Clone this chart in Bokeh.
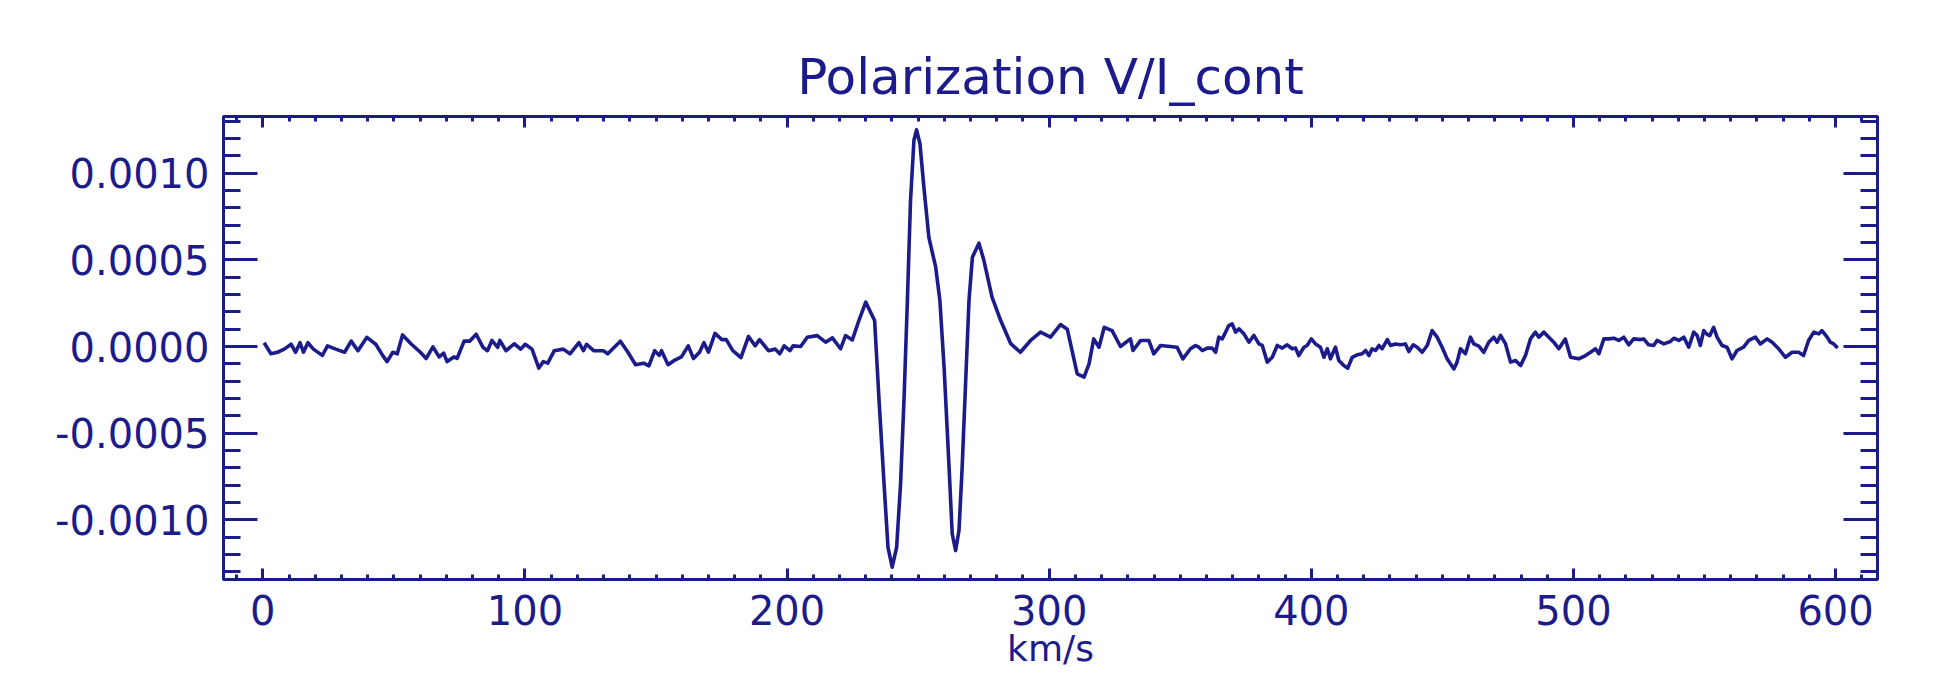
from bokeh.plotting import figure
from bokeh.models import (LinearAxis, SingleIntervalTicker, Range1d, PrintfTickFormatter,
                          CustomLabelingPolicy)
from bokeh.embed import file_html
from bokeh.resources import INLINE

# ---- data (velocity in km/s, V/I_cont in units of 1e-4) ----
velocity = [
    0.5, 3.1, 5.6, 8.2, 10.8, 12.5, 14.2, 15.5, 17.2, 19.3, 22.7, 24.7, 27.8, 31.2, 33.7, 36.3,
    39.7, 43.1, 45.7, 47.4, 49.6, 51.3, 53.3, 56.7, 60.1, 62.3, 64.9, 67.3, 69.0, 70.3, 72.9,
    74.1, 76.8, 78.9, 81.4, 84.0, 85.7, 87.4, 89.6, 90.4, 92.8, 95.9, 98.4, 100.1, 102.7, 105.3,
    107.0, 108.7, 111.2, 114.6, 117.2, 120.6, 122.3, 123.5, 126.2, 129.9, 131.6, 136.4, 139.3,
    142.2, 145.3, 147.3, 149.5, 151.2, 152.1, 154.6, 157.2, 159.7, 162.3, 164.3, 166.6, 168.3,
    170.0, 172.5, 175.1, 176.8, 179.3, 182.4, 185.3, 187.8, 189.5, 192.9, 195.5, 197.2, 198.9,
    201.1, 202.3, 205.2, 207.7, 211.5, 214.7, 217.3, 220.4, 222.3, 224.9, 227.4, 230.0, 233.4,
    235.1, 237.0, 238.5, 240.1, 241.8, 243.3, 244.6, 245.9, 247.1, 248.4, 249.4, 250.7, 252.2,
    254.1, 256.7, 258.3, 259.9, 261.8, 263.0, 264.3, 265.6, 266.8, 268.1, 269.4, 270.7, 273.2,
    275.1, 278.2, 281.5, 285.3, 289.0, 292.9, 296.7, 300.5, 304.3, 306.9, 310.7, 313.3, 315.2,
    317.0, 319.0, 321.0, 324.0, 327.2, 331.0, 332.0, 334.9, 338.0, 339.9, 342.5, 348.8, 351.0,
    353.9, 355.8, 357.1, 358.4, 360.3, 362.2, 363.5, 364.7, 366.0, 367.3, 368.5, 369.8, 371.1,
    372.4, 374.3, 376.2, 378.1, 380.0, 381.3, 383.2, 385.1, 387.0, 388.9, 390.8, 392.7, 394.0,
    395.2, 397.2, 398.4, 400.0, 401.6, 403.5, 404.8, 406.1, 407.3, 409.2, 410.5, 412.4, 413.9,
    415.6, 417.5, 419.4, 420.7, 422.0, 423.2, 424.5, 425.8, 427.0, 429.0, 430.2, 432.1, 434.0,
    435.9, 437.2, 438.9, 440.4, 442.3, 444.2, 446.1, 448.0, 449.9, 451.8, 454.4, 455.6, 456.9,
    458.8, 460.7, 462.0, 463.9, 465.8, 467.7, 469.6, 470.9, 472.2, 474.1, 476.0, 477.9, 479.8,
    481.7, 483.6, 485.5, 486.8, 488.7, 490.6, 492.5, 494.4, 496.9, 498.9, 502.0, 504.6, 506.5,
    508.4, 509.7, 511.6, 513.5, 515.4, 517.3, 519.2, 521.1, 523.0, 525.6, 526.8, 528.7, 530.6,
    531.9, 534.5, 537.0, 538.3, 540.2, 542.1, 544.0, 545.9, 547.2, 548.4, 549.7, 551.0, 552.0,
    553.5, 554.8, 556.7, 558.6, 560.5, 562.4, 564.9, 566.9, 569.4, 571.3, 573.9, 575.8, 578.3,
    580.9, 583.4, 585.9, 587.8, 589.7, 591.7, 593.6, 594.8, 596.8, 598.0, 599.3, 600.8,
]
v_over_i_e4 = [
    0.22, -0.42, -0.33, -0.15, 0.13, -0.33, 0.22, -0.33, 0.22, -0.15, -0.51, 0.04, -0.15, -0.33, 0.31, -0.24,
    0.53, 0.13, -0.51, -0.87, -0.33, -0.42, 0.67, 0.13, -0.33, -0.69, -0.02, -0.60, -0.38, -0.87, -0.60,
    -0.69, 0.31, 0.31, 0.71, -0.05, -0.24, 0.35, -0.05, 0.35, -0.24, 0.16, -0.15, 0.13, -0.15, -1.24,
    -0.87, -0.96, -0.24, -0.15, -0.42, 0.22, -0.24, 0.13, -0.24, -0.24, -0.42, 0.31, -0.33,
    -1.05, -0.96, -1.11, -0.24, -0.51, -0.24, -1.05, -0.78, -0.60, 0.04, -0.69, -0.33, 0.22,
    -0.33, 0.76, 0.40, 0.40, -0.24, -0.64, 0.58, 0.04, 0.40, -0.24, -0.15, -0.42, 0.04,
    -0.24, 0.04, 0.00, 0.54, 0.63, 0.25, 0.50, -0.13, 0.63, 0.38, 1.50, 2.56, 1.50,
    -3.12, -7.92, -11.58, -12.73, -11.58, -7.92, -3.12, 2.65, 8.42, 11.90, 12.50, 11.70, 9.19,
    6.30, 4.58, 2.65, -1.19, -6.96, -10.80, -11.77, -10.60, -6.96, -2.15, 2.65, 5.15, 5.96,
    4.96, 2.85, 1.50, 0.17, -0.33, 0.35, 0.83, 0.54, 1.27, 1.00, -1.58, -1.77, -1.00,
    0.44, -0.04, 1.11, 0.92, 0.00, 0.44, -0.23, 0.35, 0.35, -0.42, 0.06, -0.04, -0.71,
    -0.13, 0.06, -0.04, -0.23, -0.09, -0.09, -0.33, 0.54, 0.44, 0.83, 1.21, 1.31, 0.83,
    1.02, 0.73, 0.25, 0.64, 0.15, 0.06, -0.90, -0.62, 0.06, -0.09, 0.10, -0.13, -0.09,
    -0.52, -0.04, 0.06, 0.44, 0.15, -0.04, -0.62, -0.13, -0.71, -0.04, -0.81, -1.10, -1.25,
    -0.62, -0.48, -0.42, -0.23, -0.52, -0.13, -0.23, 0.06, -0.13, 0.40, 0.06, 0.15, 0.10,
    0.15, -0.29, 0.10, -0.04, -0.33, 0.06, 0.92, 0.54, -0.04, -0.71, -1.29, -0.90, -0.13,
    -0.42, 0.54, 0.15, 0.02, -0.33, 0.25, 0.54, 0.25, 0.64, 0.15, -0.90, -0.81, -1.10,
    -0.52, 0.44, 0.83, 0.54, 0.83, 0.54, 0.25, -0.13, 0.44, -0.62, -0.71, -0.52, -0.33,
    -0.13, -0.42, 0.44, 0.44, 0.48, 0.35, 0.54, 0.10, 0.44, 0.40, 0.44, 0.10, 0.06,
    0.35, 0.15, 0.29, 0.48, 0.35, 0.54, -0.04, 0.83, 0.64, 0.06, 0.92, 0.70, 0.63,
    1.11, 0.54, 0.06, -0.04, -0.71, -0.23, -0.04, 0.35, 0.54, 0.15, 0.44, 0.25, -0.13,
    -0.62, -0.33, -0.33, -0.52, 0.35, 0.83, 0.73, 0.92, 0.54, 0.25, 0.15, -0.08,
]
SCALE = 1e-4
v_over_i = [val * SCALE for val in v_over_i_e4]

title_text = "Polarization V/I_cont"
x_label = "km/s"

NAVY = "#1b1b8c"
FONT = "DejaVu Sans"

p = figure(
    width=1933, height=682, output_backend="svg", toolbar_location=None,
    x_range=Range1d(-15, 616), y_range=Range1d(-0.001344, 0.001327),
    x_axis_type=None, y_axis_type=None,
    min_border_left=223, min_border_right=56, min_border_top=116, min_border_bottom=103,
    background_fill_color="white", border_fill_color="white",
)
p.outline_line_color = NAVY
p.outline_line_width = 3

p.title.text = title_text
p.title.align = "center"
p.title.text_font = FONT
p.title.text_font_size = "50px"
p.title.text_font_style = "normal"
p.title.text_color = NAVY
p.title.standoff = 14

hide_all = CustomLabelingPolicy(code="for (const i of indices) { indices.unset(i) }\nreturn indices")


def style_axis(ax, major_in, minor_in, labels=True, size="40px"):
    ax.axis_line_color = NAVY
    ax.axis_line_width = 3
    ax.major_tick_line_color = NAVY
    ax.minor_tick_line_color = NAVY
    ax.major_tick_line_width = 3
    ax.minor_tick_line_width = 3
    ax.major_tick_in = major_in
    ax.major_tick_out = 0
    ax.minor_tick_in = minor_in
    ax.minor_tick_out = 0
    ax.major_label_text_color = NAVY
    ax.major_label_text_font = FONT
    if labels:
        ax.major_label_text_font_size = size
    else:
        ax.major_label_text_font_size = "1px"
        ax.major_label_standoff = 0
        ax.major_label_policy = hide_all


xt = SingleIntervalTicker(interval=100, num_minor_ticks=10)
yt = SingleIntervalTicker(interval=0.0005, num_minor_ticks=5)

xb = LinearAxis(ticker=xt, formatter=PrintfTickFormatter(format="%d"))
style_axis(xb, 11, 5)
xb.major_label_standoff = 15
xb.axis_label = x_label
xb.axis_label_text_font = FONT
xb.axis_label_text_font_size = "36px"
xb.axis_label_text_font_style = "normal"
xb.axis_label_text_color = NAVY
xb.axis_label_standoff = 0
p.add_layout(xb, "below")

xa = LinearAxis(ticker=xt)
style_axis(xa, 11, 5, labels=False)
p.add_layout(xa, "above")

yl = LinearAxis(ticker=yt, formatter=PrintfTickFormatter(format="%.4f"))
style_axis(yl, 34, 17)
yl.major_label_standoff = 14
p.add_layout(yl, "left")

yr = LinearAxis(ticker=yt)
style_axis(yr, 34, 17, labels=False)
p.add_layout(yr, "right")

p.line(velocity, v_over_i, line_color=NAVY, line_width=3.6, line_join="round")

open("out.html", "w").write(file_html(p, INLINE))
